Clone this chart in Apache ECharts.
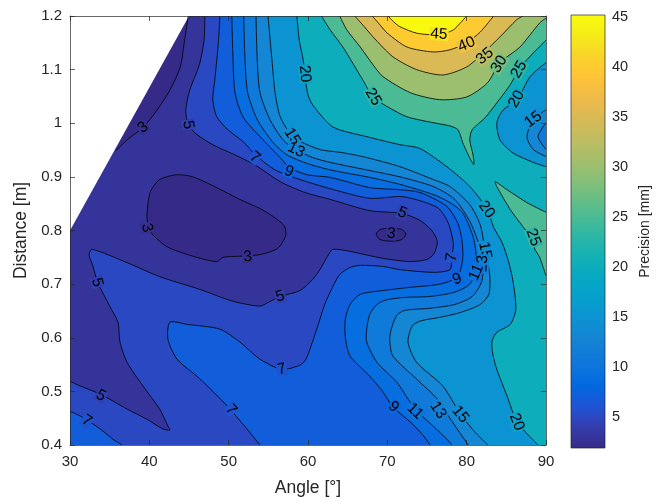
<!DOCTYPE html>
<html>
<head>
<meta charset="utf-8">
<script src="https://cdn.jsdelivr.net/npm/echarts@6.0.0/dist/echarts.min.js"></script>
<style>
  html, body { margin: 0; padding: 0; background: #fff; }
  #chart { width: 666px; height: 502px; }
</style>
</head>
<body>
<div id="chart"></div>
<script>
// contour levels and colour scale limits
const levels = [3, 5, 7, 9, 11, 13, 15, 20, 25, 30, 35, 40, 45];
const colorbarTicks = [5, 10, 15, 20, 25, 30, 35, 40, 45];
const precisionMin = 1.9;
const precisionMax = 45.2;

// contour lines, [angle (deg), distance (m)]
const c3Sliver = [[35.8,0.949],[37.2,0.969],[39.2,0.992],[41.0,1.025],[42.6,1.062],[43.9,1.105],[44.4,1.150],[44.9,1.2]];
const c3Loop = [[39.7,0.824],[40.1,0.871],[41.3,0.895],[43.5,0.904],[45.5,0.900],[48.5,0.880],[51.4,0.858],[53.95,0.841],[55.6,0.826],[57.0,0.809],[57.2,0.791],[56.2,0.767],[53.95,0.755],[51.4,0.752],[49.3,0.750],[48.5,0.742],[45.5,0.752],[42.2,0.770],[40.1,0.798]];
const c3Small = [[68.6,0.793],[69.1,0.802],[70.5,0.804],[71.8,0.802],[72.35,0.793],[71.8,0.783],[70.5,0.780],[69.1,0.783]];
const c5 = [[47.0,1.2],[46.9,1.155],[46.3,1.109],[45.1,1.062],[44.6,1.025],[44.9,0.997],[46.0,0.979],[48.0,0.960],[50.8,0.941],[53.45,0.921],[56.5,0.891],[59.6,0.871],[62.8,0.858],[67.8,0.837],[71.85,0.832],[74.1,0.819],[75.6,0.800],[76.3,0.780],[75.9,0.757],[75.0,0.746],[72.9,0.742],[69.45,0.748],[65.3,0.761],[63.15,0.765],[62.5,0.753],[61.5,0.727],[60.6,0.709],[59.0,0.688],[56.5,0.677],[55.0,0.666],[53.95,0.659],[50.55,0.668],[46.4,0.690],[41.3,0.714],[37.2,0.740],[32.8,0.765],[32.4,0.755],[32.9,0.733],[33.5,0.703],[35.0,0.659],[36.05,0.629],[36.3,0.592],[37.2,0.554],[39.2,0.510],[41.3,0.467],[42.35,0.435],[42.6,0.428],[41.7,0.430],[39.7,0.448],[37.2,0.467],[33.8,0.495],[31.3,0.510],[30.0,0.519]];
const c7 = [[48.9,1.2],[48.7,1.150],[48.3,1.087],[48.0,1.044],[48.5,1.012],[49.9,0.988],[51.8,0.966],[53.45,0.940],[55.85,0.913],[59.0,0.895],[62.8,0.878],[67.8,0.860],[72.0,0.863],[76.3,0.843],[77.65,0.815],[78.3,0.778],[78.15,0.750],[77.9,0.727],[75.8,0.722],[71.6,0.727],[69.45,0.733],[66.6,0.735],[65.3,0.731],[64.0,0.718],[63.15,0.696],[62.1,0.662],[61.3,0.625],[60.6,0.594],[59.75,0.560],[59.0,0.549],[56.7,0.541],[53.95,0.560],[51.4,0.592],[48.9,0.616],[44.75,0.625],[42.6,0.629],[42.35,0.597],[43.5,0.560],[46.4,0.523],[49.8,0.473],[52.3,0.430],[53.95,0.400]];
const c7Corner = [[30.0,0.463],[31.3,0.454],[32.1,0.447],[33.8,0.430],[35.4,0.411],[36.55,0.400]];
const c9 = [[50.4,1.2],[50.55,1.118],[50.8,1.057],[51.8,1.012],[53.95,0.975],[56.5,0.936],[57.7,0.917],[59.9,0.904],[62.8,0.899],[67.8,0.880],[71.6,0.876],[74.1,0.871],[77.5,0.845],[78.9,0.813],[79.4,0.783],[79.5,0.746],[78.8,0.713],[76.6,0.700],[72.9,0.694],[69.45,0.688],[66.6,0.681],[65.3,0.662],[64.7,0.634],[64.7,0.601],[65.3,0.566],[67.8,0.528],[69.45,0.499],[70.7,0.471],[72.9,0.443],[74.4,0.420],[75.4,0.400]];
const c11 = [[51.9,1.2],[52.06,1.118],[52.4,1.057],[53.6,1.007],[55.6,0.964],[57.35,0.941],[59.9,0.925],[62.8,0.913],[67.8,0.899],[71.6,0.886],[75.8,0.867],[77.9,0.852],[79.5,0.833],[80.8,0.789],[81.2,0.755],[81.2,0.727],[80.4,0.700],[78.5,0.685],[75.4,0.677],[72.0,0.675],[69.7,0.670],[68.7,0.662],[67.8,0.644],[67.4,0.616],[67.4,0.592],[68.7,0.554],[71.2,0.517],[73.5,0.467],[75.8,0.435],[77.5,0.411],[78.15,0.400]];
const c13 = [[53.45,1.2],[53.6,1.118],[53.95,1.057],[55.2,1.007],[56.85,0.969],[58.4,0.951],[60.6,0.936],[62.8,0.927],[67.4,0.913],[71.6,0.900],[75.8,0.882],[78.5,0.858],[80.4,0.817],[81.55,0.774],[82.06,0.740],[81.9,0.705],[80.7,0.677],[78.5,0.662],[75.4,0.655],[72.2,0.651],[71.2,0.642],[70.5,0.616],[70.3,0.597],[70.7,0.566],[73.7,0.523],[76.3,0.486],[77.3,0.463],[78.8,0.430],[80.2,0.400]];
const c15 = [[54.96,1.2],[55.46,1.118],[55.85,1.057],[56.5,1.012],[58.0,0.975],[59.0,0.966],[61.5,0.951],[64.4,0.945],[67.4,0.936],[71.6,0.919],[75.8,0.895],[77.9,0.882],[80.4,0.848],[81.7,0.811],[82.3,0.765],[82.9,0.718],[82.8,0.681],[81.7,0.662],[79.2,0.647],[76.6,0.638],[74.1,0.631],[73.1,0.621],[72.6,0.592],[73.7,0.554],[77.0,0.510],[79.2,0.458],[81.05,0.424],[82.7,0.400]];
const c20 = [[58.6,1.2],[58.9,1.155],[59.4,1.118],[59.6,1.090],[60.0,1.053],[60.6,1.034],[63.15,0.993],[67.4,0.975],[71.6,0.960],[74.1,0.953],[77.5,0.919],[80.4,0.882],[82.6,0.839],[83.4,0.806],[84.45,0.778],[85.2,0.746],[85.8,0.709],[86.2,0.653],[85.5,0.625],[83.8,0.610],[83.2,0.594],[83.3,0.569],[83.8,0.541],[85.1,0.491],[86.35,0.443],[88.4,0.409],[89.0,0.400]];
const c20Right = [[90.0,1.113],[88.0,1.087],[86.35,1.044],[84.6,1.025],[83.8,1.001],[84.2,0.969],[85.8,0.945],[88.4,0.927],[90.0,0.919]];
const c15Right = [[90.0,1.025],[88.4,1.007],[87.6,0.975],[88.4,0.951],[90.0,0.938]];
const c13Right = [[90.0,1.001],[89.0,0.975],[90.0,0.951]];
const c25 = [[61.7,1.2],[62.8,1.174],[64.4,1.142],[66.9,1.081],[68.2,1.049],[70.0,1.031],[72.5,1.012],[75.8,1.001],[77.9,0.995],[78.9,0.988],[79.5,0.964],[80.3,0.938],[80.9,0.923],[80.8,0.941],[80.4,0.969],[80.7,0.988],[82.3,1.010],[83.8,1.038],[85.5,1.072],[86.7,1.103],[88.4,1.131],[90.0,1.155]];
const c25Right = [[90.0,0.834],[87.6,0.852],[85.1,0.876],[83.6,0.891],[83.8,0.882],[85.5,0.839],[87.1,0.807],[88.0,0.789],[88.6,0.765],[89.2,0.750],[90.0,0.715]];
const c30 = [[64.0,1.2],[64.9,1.174],[66.6,1.142],[68.2,1.109],[69.45,1.087],[72.9,1.057],[76.6,1.044],[80.0,1.049],[82.6,1.075],[84.2,1.113],[86.7,1.142],[89.2,1.187],[90.0,1.196]];
const c35 = [[65.9,1.2],[67.1,1.180],[68.2,1.161],[70.7,1.124],[73.7,1.100],[77.0,1.090],[80.0,1.105],[82.1,1.131],[84.2,1.161],[86.3,1.193],[87.1,1.2]];
const c40 = [[68.1,1.2],[69.1,1.183],[70.0,1.168],[72.5,1.142],[75.8,1.133],[77.9,1.137],[80.0,1.150],[81.7,1.170],[83.4,1.2]];
const c45 = [[70.1,1.2],[70.8,1.189],[71.6,1.180],[73.7,1.168],[76.6,1.165],[78.3,1.174],[79.2,1.187],[80.0,1.2]];
// edge of the measured area (no data to the upper left)
const nanEdge = [[30,0.8],[45,1.2]];

// contour labels
const labelAngle = [39.2, 44.9, 53.3, 58.0, 58.5, 57.6, 59.6, 68.2, 76.5, 80.0, 82.3, 84.1, 86.6, 86.3, 88.4, 82.5, 88.4, 71.9, 70.5, 78.1, 82.3, 82.0, 81.2, 78.8, 70.8, 73.5, 76.4, 79.2, 86.3, 56.7, 50.3, 56.5, 52.4, 39.7, 33.4, 33.9, 32.1];
const labelDist = [0.992, 0.997, 0.936, 0.975, 0.950, 0.910, 1.092, 1.049, 1.166, 1.147, 1.125, 1.110, 1.100, 1.045, 1.007, 0.839, 0.787, 0.833, 0.794, 0.750, 0.763, 0.738, 0.722, 0.709, 0.471, 0.463, 0.465, 0.457, 0.443, 0.541, 0.466, 0.677, 0.751, 0.805, 0.703, 0.492, 0.445];
const labelValue = [3, 5, 7, 15, 13, 9, 20, 25, 45, 40, 35, 30, 25, 20, 15, 20, 25, 5, 3, 7, 15, 13, 11, 9, 9, 11, 13, 15, 20, 7, 7, 5, 3, 3, 5, 5, 7];

// parula colormap
const parulaStops = ['#352a87','#353dad','#2053d4','#0268e1','#0d75dc','#1485d4','#0c93d2','#06a0cd','#07a9c2','#15b1b4','#2eb7a4','#59bd8c','#7cbf7b','#9cbf6f','#b7bd64','#d1bb59','#e9b94e','#ffc337','#fad32a','#f5eb18','#f9fb0e'];
const parulaPos = [0,3,6,9,12,16,19,22,25,28,31,35,38,41,44,47,50,54,57,60,63].map(i => i / 63);

function hexRgb(h) {
  return [parseInt(h.slice(1, 3), 16), parseInt(h.slice(3, 5), 16), parseInt(h.slice(5, 7), 16)];
}
function parulaRgb(v) {
  const t = Math.min(1, Math.max(0, (v - precisionMin) / (precisionMax - precisionMin)));
  for (let i = 1; i < parulaPos.length; i++) {
    if (t <= parulaPos[i]) {
      const f = (t - parulaPos[i - 1]) / (parulaPos[i] - parulaPos[i - 1]);
      const a = hexRgb(parulaStops[i - 1]), b = hexRgb(parulaStops[i]);
      return a.map((c, k) => c + (b[k] - c) * f);
    }
  }
  return hexRgb(parulaStops[parulaStops.length - 1]);
}
const rgbStr = c => 'rgb(' + c.map(Math.round).join(',') + ')';
const parula = v => rgbStr(parulaRgb(v));
// colour under a label: halfway between the two bands the line separates
function labelBack(level) {
  const k = levels.indexOf(level);
  const below = parulaRgb(k > 0 ? levels[k - 1] : precisionMin);
  const above = parulaRgb(level);
  return rgbStr(below.map((c, i) => (c + above[i]) / 2));
}

// just outside the axes, so filled shapes close off-screen
const LO_X = 29, HI_X = 91, LO_Y = 0.39, HI_Y = 1.21;
const last = a => a[a.length - 1];
const rightOf = l => l.concat([[last(l)[0], LO_Y], [HI_X, LO_Y], [HI_X, HI_Y], [l[0][0], HI_Y]]);
const topToRight = l => l.concat([[HI_X, last(l)[1]], [HI_X, HI_Y], [l[0][0], HI_Y]]);
const topToTop = l => l.concat([[last(l)[0], HI_Y], [l[0][0], HI_Y]]);
const rightToRight = l => l.concat([[HI_X, last(l)[1]], [HI_X, l[0][1]]]);

const fills = [
  { pts: [[LO_X, LO_Y], [HI_X, LO_Y], [HI_X, HI_Y], [LO_X, HI_Y]], color: parula(5) },
  { pts: c5.concat([[LO_X, last(c5)[1]], [LO_X, HI_Y], [c5[0][0], HI_Y]]), color: parula(3) },
  { pts: c3Sliver.concat([[last(c3Sliver)[0], HI_Y], [LO_X, HI_Y], [LO_X, c3Sliver[0][1]]]), color: parula(precisionMin) },
  { pts: c3Loop, color: parula(precisionMin) },
  { pts: c3Small, color: parula(precisionMin) },
  { pts: rightOf(c7), color: parula(7) },
  { pts: c7Corner.concat([[last(c7Corner)[0], LO_Y], [LO_X, LO_Y], [LO_X, c7Corner[0][1]]]), color: parula(7) },
  { pts: rightOf(c9), color: parula(9) },
  { pts: rightOf(c11), color: parula(11) },
  { pts: rightOf(c13), color: parula(13) },
  { pts: rightOf(c15), color: parula(15) },
  { pts: rightOf(c20), color: parula(20) },
  { pts: rightToRight(c20Right), color: parula(15) },
  { pts: rightToRight(c15Right), color: parula(13) },
  { pts: rightToRight(c13Right), color: parula(11) },
  { pts: topToRight(c25), color: parula(25) },
  { pts: rightToRight(c25Right), color: parula(25) },
  { pts: topToRight(c30), color: parula(30) },
  { pts: topToTop(c35), color: parula(35) },
  { pts: topToTop(c40), color: parula(40) },
  { pts: topToTop(c45), color: parula(45) },
  { pts: nanEdge.concat([[nanEdge[1][0], HI_Y], [LO_X, HI_Y], [LO_X, nanEdge[0][1]]]), color: '#ffffff' }
];

const contours = [
  { pts: c3Sliver, level: 3 }, { pts: c3Loop, level: 3, closed: true }, { pts: c3Small, level: 3, closed: true },
  { pts: c5, level: 5 }, { pts: c7, level: 7 }, { pts: c7Corner, level: 7 },
  { pts: c9, level: 9 }, { pts: c11, level: 11 }, { pts: c13, level: 13 }, { pts: c15, level: 15 },
  { pts: c20, level: 20 }, { pts: c20Right, level: 20 }, { pts: c15Right, level: 15 }, { pts: c13Right, level: 13 },
  { pts: c25, level: 25 }, { pts: c25Right, level: 25 },
  { pts: c30, level: 30 }, { pts: c35, level: 35 }, { pts: c40, level: 40 }, { pts: c45, level: 45 }
];

const SMOOTH = 0.25;
const font = '"Liberation Sans", Arial, Helvetica, sans-serif';
const axisColor = '#262626';

function labelRotation(api, p, value) {
  let best = Infinity, ang = 0;
  contours.filter(c => c.level === value).forEach(c => {
    const pts = c.closed ? c.pts.concat([c.pts[0]]) : c.pts;
    for (let i = 1; i < pts.length; i++) {
      const a = api.coord(pts[i - 1]), b = api.coord(pts[i]);
      const dx = b[0] - a[0], dy = b[1] - a[1];
      const len2 = dx * dx + dy * dy || 1;
      const t = Math.max(0, Math.min(1, ((p[0] - a[0]) * dx + (p[1] - a[1]) * dy) / len2));
      const qx = a[0] + t * dx - p[0], qy = a[1] + t * dy - p[1];
      const d = qx * qx + qy * qy;
      if (d < best) { best = d; ang = Math.atan2(-dy, dx); }
    }
  });
  if (ang > Math.PI / 2) ang -= Math.PI;
  if (ang < -Math.PI / 2) ang += Math.PI;
  return ang;
}

const chart = echarts.init(document.getElementById('chart'));

const mainAxisLine = { show: true, onZero: false, lineStyle: { color: axisColor, width: 0.7 } };
const mainTick = { show: true, inside: true, length: 5, lineStyle: { color: axisColor, width: 0.7 } };

chart.setOption({
  animation: false,
  backgroundColor: '#fff',
  grid: [
    { left: 70, top: 16, width: 476, height: 430 },
    { left: 571, top: 15, width: 34, height: 433, show: true, z: 5, backgroundColor: 'transparent', borderColor: axisColor, borderWidth: 0.7 }
  ],
  xAxis: [
    {
      gridIndex: 0, type: 'value', min: 30, max: 90, interval: 10, position: 'bottom', z: 10,
      axisLine: mainAxisLine, axisTick: mainTick, splitLine: { show: false },
      axisLabel: { color: axisColor, fontSize: 15, fontFamily: font, margin: 9 },
      name: 'Angle [°]', nameLocation: 'middle', nameGap: 34,
      nameTextStyle: { color: axisColor, fontSize: 17.5, fontFamily: font }
    },
    {
      gridIndex: 0, type: 'value', min: 30, max: 90, interval: 10, position: 'top', z: 10,
      axisLine: mainAxisLine, axisTick: mainTick, splitLine: { show: false }, axisLabel: { show: false }
    },
    { gridIndex: 1, type: 'value', min: 0, max: 1, show: false }
  ],
  yAxis: [
    {
      gridIndex: 0, type: 'value', min: 0.4, max: 1.2, interval: 0.1, position: 'left', z: 10,
      axisLine: mainAxisLine, axisTick: mainTick, splitLine: { show: false },
      axisLabel: { color: axisColor, fontSize: 15, fontFamily: font, margin: 8 },
      name: 'Distance [m]', nameLocation: 'middle', nameGap: 31, nameRotate: 90,
      nameTextStyle: { color: axisColor, fontSize: 17.5, fontFamily: font }
    },
    {
      gridIndex: 0, type: 'value', min: 0.4, max: 1.2, interval: 0.1, position: 'right', z: 10,
      axisLine: mainAxisLine, axisTick: mainTick, splitLine: { show: false }, axisLabel: { show: false }
    },
    {
      gridIndex: 1, type: 'value', min: precisionMin, max: precisionMax, position: 'right',
      axisLine: { show: false }, axisTick: { show: false }, splitLine: { show: false },
      axisLabel: { customValues: colorbarTicks, color: axisColor, fontSize: 14.5, fontFamily: font, margin: 7 },
      name: 'Precision [mm]', nameLocation: 'middle', nameGap: 33, nameRotate: 90,
      nameTextStyle: { color: axisColor, fontSize: 14, fontFamily: font }
    }
  ],
  series: [
    {
      type: 'custom', xAxisIndex: 0, yAxisIndex: 0, clip: true, silent: true, z: 1,
      data: fills.map((f, i) => [i]),
      renderItem: (params, api) => {
        const f = fills[params.dataIndex];
        return {
          type: 'polygon',
          shape: { points: f.pts.map(p => api.coord(p)), smooth: f.color === '#ffffff' ? 0 : SMOOTH },
          style: { fill: f.color, stroke: null }
        };
      }
    },
    {
      type: 'custom', xAxisIndex: 0, yAxisIndex: 0, clip: true, silent: true, z: 2,
      data: contours.map((c, i) => [i]),
      renderItem: (params, api) => {
        const c = contours[params.dataIndex];
        return {
          type: c.closed ? 'polygon' : 'polyline',
          shape: { points: c.pts.map(p => api.coord(p)), smooth: SMOOTH },
          style: { fill: null, stroke: '#000', lineWidth: 0.8 }
        };
      }
    },
    {
      type: 'custom', xAxisIndex: 0, yAxisIndex: 0, silent: true, z: 3,
      data: labelValue.map((v, i) => [labelAngle[i], labelDist[i], v]),
      renderItem: (params, api) => {
        const i = params.dataIndex;
        const p = api.coord([labelAngle[i], labelDist[i]]);
        return {
          type: 'text', x: p[0], y: p[1],
          rotation: labelRotation(api, p, labelValue[i]),
          style: {
            text: String(labelValue[i]), fill: '#000', font: '15.5px ' + font,
            align: 'center', verticalAlign: 'middle',
            backgroundColor: labelBack(labelValue[i]), padding: [-1, 1, -2, 1]
          }
        };
      }
    },
    {
      type: 'custom', xAxisIndex: 2, yAxisIndex: 2, silent: true, z: 1,
      data: [[0, precisionMin]],
      renderItem: (params, api) => {
        const a = api.coord([0, precisionMax]);
        const b = api.coord([1, precisionMin]);
        const stops = parulaPos.map((p, i) => ({ offset: 1 - p, color: parulaStops[i] })).reverse();
        return {
          type: 'rect',
          shape: { x: a[0], y: a[1], width: b[0] - a[0], height: b[1] - a[1] },
          style: { fill: new echarts.graphic.LinearGradient(0, 0, 0, 1, stops) }
        };
      }
    }
  ]
});
</script>
</body>
</html>
